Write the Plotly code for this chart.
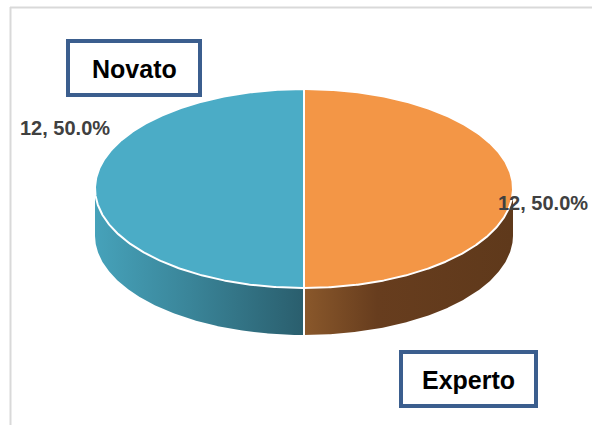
import numpy as np
import plotly.graph_objects as go

# Data
categories = ["Experto", "Novato"]
counts = [12, 12]
top_colors = ["#F39646", "#4BACC6"]
# side wall colour ramps, left to right
side_scales = [
    [[0, "#8A582B"], [0.35, "#673D1E"], [1, "#5F391B"]],
    [[0, "#46A2BA"], [0.45, "#3A8599"], [1, "#2A5E6D"]],
]

W, H = 592, 425
cx, cy = 304.0, 188.5       # centre of the top ellipse (px)
rx, ry = 209.0, 99.5        # ellipse radii (px)
depth = 47.0                # thickness of the disc (px)

total = sum(counts)
fracs = [c / total for c in counts]

fig = go.Figure()


def ell(theta_deg, dy=0.0):
    t = np.radians(theta_deg)
    return cx + rx * np.cos(t), cy - ry * np.sin(t) + dy


# slice angles: start at 12 o'clock, run clockwise
starts, ends = [], []
a = 90.0
for f in fracs:
    starts.append(a)
    a -= f * 360.0
    ends.append(a)

# side walls (only the front half, sin < 0, is visible)
for i in range(len(counts)):
    th = np.linspace(starts[i], ends[i], 400)
    vis = th[np.sin(np.radians(th)) <= 1e-9]
    if len(vis) < 2:
        continue
    xt, yt = ell(vis)
    xb, yb = ell(vis[::-1], depth)
    xs = np.concatenate([xt, xb, xt[:1]])
    ys = np.concatenate([yt, yb, yt[:1]])
    fig.add_trace(go.Scatter(
        x=xs, y=ys, mode="lines", fill="toself",
        line=dict(width=0, color=side_scales[i][0][1]),
        fillgradient=dict(type="horizontal", colorscale=side_scales[i]),
        hoverinfo="skip", showlegend=False,
    ))

# white seam on the front wall between slices
for i in range(len(counts)):
    e = ends[i]
    if np.sin(np.radians(e)) < -0.99:
        x0, y0 = ell(e)
        x1, y1 = ell(e, depth)
        fig.add_trace(go.Scatter(x=[x0, x1], y=[y0, y1], mode="lines",
                                 line=dict(color="white", width=2),
                                 hoverinfo="skip", showlegend=False))

# top faces
for i in range(len(counts)):
    th = np.linspace(starts[i], ends[i], 400)
    xa, ya = ell(th)
    xs = np.concatenate([[cx], xa, [cx]])
    ys = np.concatenate([[cy], ya, [cy]])
    fig.add_trace(go.Scatter(
        x=xs, y=ys, mode="lines", fill="toself", fillcolor=top_colors[i],
        line=dict(color="white", width=2),
        hoverinfo="skip", showlegend=False,
    ))

# value labels
label_pos = [(543, 203), (65, 128)]
for i, (lx, ly) in enumerate(label_pos):
    fig.add_annotation(x=lx, y=ly, text=f"{counts[i]}, {fracs[i]*100:.1f}%",
                       showarrow=False, xref="x", yref="y",
                       font=dict(family="Liberation Sans", size=20, color="#404040", weight="bold"))

# category boxes
boxes = [(399, 350, 538, 408), (66, 39, 202, 97)]
for i, (x0, y0, x1, y1) in enumerate(boxes):
    fig.add_shape(type="rect", x0=x0 + 2, y0=y0 + 2, x1=x1 - 2, y1=y1 - 2,
                  xref="x", yref="y", line=dict(color="#3B5E8E", width=4),
                  fillcolor="white", layer="above")
    fig.add_annotation(x=(x0 + x1) / 2, y=(y0 + y1) / 2 + 1, text=categories[i],
                       showarrow=False, xref="x", yref="y",
                       font=dict(family="Liberation Sans", size=25, color="black", weight="bold"))

# chart-area frame (top and left edges)
fig.add_shape(type="line", x0=10, y0=7.5, x1=W, y1=7.5, xref="x", yref="y",
              line=dict(color="#D9D9D9", width=2))
fig.add_shape(type="line", x0=10.5, y0=7, x1=10.5, y1=H, xref="x", yref="y",
              line=dict(color="#D9D9D9", width=2))

fig.update_layout(
    width=W, height=H, margin=dict(l=0, r=0, t=0, b=0),
    paper_bgcolor="white", plot_bgcolor="white",
    xaxis=dict(range=[0, W], visible=False, fixedrange=True),
    yaxis=dict(range=[H, 0], visible=False, fixedrange=True),
    showlegend=False,
)

fig.write_html("out.html")
